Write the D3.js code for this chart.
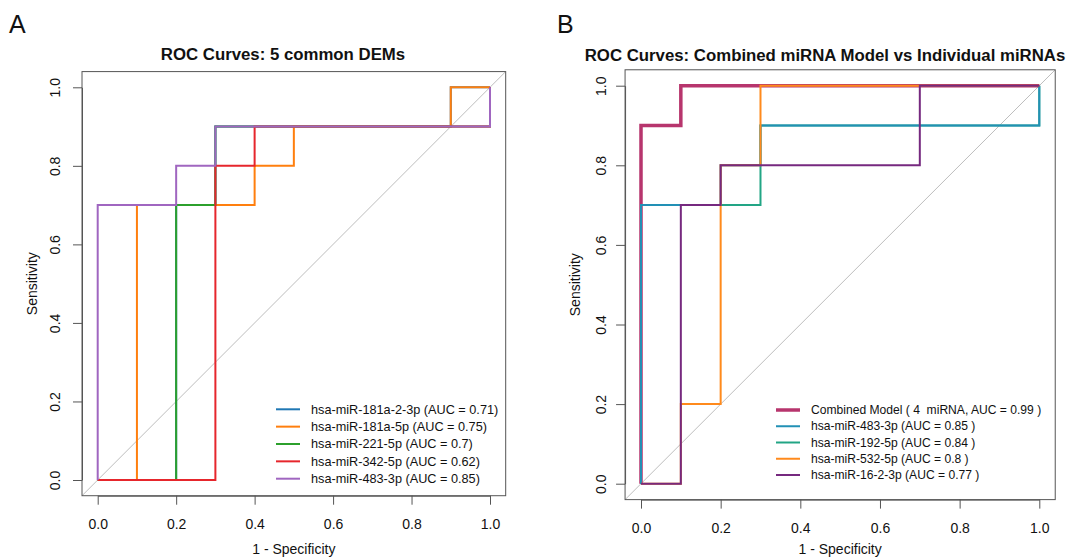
<!DOCTYPE html>
<html>
<head>
<meta charset="utf-8">
<script src="https://cdn.jsdelivr.net/npm/d3@7"></script>
<style>
  html, body { margin: 0; padding: 0; background: #fff; }
  svg { display: block; font-family: "Liberation Sans", Arial, sans-serif; }
  text { white-space: pre; }
</style>
</head>
<body>
<svg id="chart" width="1086" height="559"></svg>
<script>
// ---------------- DATA ----------------
const xTicks = [0, 0.2, 0.4, 0.6, 0.8, 1.0];
const yTicks = [0, 0.2, 0.4, 0.6, 0.8, 1.0];
const xAxisTitle = "1 - Specificity";
const yAxisTitle = "Sensitivity";

// Panel A
const titleA = "ROC Curves: 5 common DEMs";
const namesA = ["hsa-miR-181a-2-3p", "hsa-miR-181a-5p", "hsa-miR-221-5p", "hsa-miR-342-5p", "hsa-miR-483-3p"];
const aucA = ["0.71", "0.75", "0.7", "0.62", "0.85"];
const colorsA = ["#1f77b4", "#ff7f0e", "#2ca02c", "#e6262c", "#a066c0"];
const fprA_181a23p = [0, 0.2, 0.2, 0.3, 0.3, 0.9, 0.9, 1];
const tprA_181a23p = [0, 0, 0.7, 0.7, 0.9, 0.9, 1, 1];
const fprA_181a5p = [0, 0.1, 0.1, 0.4, 0.4, 0.5, 0.5, 0.9, 0.9, 1];
const tprA_181a5p = [0, 0, 0.7, 0.7, 0.8, 0.8, 0.9, 0.9, 1, 1];
const fprA_221 = [0, 0.2, 0.2, 0.3, 0.3, 1, 1];
const tprA_221 = [0, 0, 0.7, 0.7, 0.9, 0.9, 1];
const fprA_342 = [0, 0.3, 0.3, 0.4, 0.4, 1, 1];
const tprA_342 = [0, 0, 0.8, 0.8, 0.9, 0.9, 1];
const fprA_483 = [0, 0, 0.2, 0.2, 0.3, 0.3, 1, 1];
const tprA_483 = [0, 0.7, 0.7, 0.8, 0.8, 0.9, 0.9, 1];

// Panel B
const titleB = "ROC Curves: Combined miRNA Model vs Individual miRNAs";
const namesB = ["Combined Model ( 4  miRNA, AUC = 0.99 )", "hsa-miR-483-3p (AUC = 0.85 )", "hsa-miR-192-5p (AUC = 0.84 )", "hsa-miR-532-5p (AUC = 0.8 )", "hsa-miR-16-2-3p (AUC = 0.77 )"];
const colorsB = ["#b7356d", "#2290b5", "#22a585", "#ff8a1c", "#76297f"];
const fprB_combined = [0, 0, 0.1, 0.1, 1];
const tprB_combined = [0, 0.9, 0.9, 1, 1];
const fprB_483 = [0, 0, 0.2, 0.2, 0.3, 0.3, 1, 1];
const tprB_483 = [0, 0.7, 0.7, 0.8, 0.8, 0.9, 0.9, 1];
const fprB_192 = [0, 0, 0.3, 0.3, 1, 1];
const tprB_192 = [0, 0.7, 0.7, 0.9, 0.9, 1];
const fprB_532 = [0, 0.1, 0.1, 0.2, 0.2, 0.3, 0.3, 1];
const tprB_532 = [0, 0, 0.2, 0.2, 0.8, 0.8, 1, 1];
const fprB_16 = [0, 0.1, 0.1, 0.2, 0.2, 0.7, 0.7, 1];
const tprB_16 = [0, 0, 0.7, 0.7, 0.8, 0.8, 1, 1];

// ---------------- DRAW ----------------
const svg = d3.select("#chart");

function zip(f, t) { return f.map((v, i) => [v, t[i]]); }

function panel(cfg) {
  const x = d3.scaleLinear().domain([0, 1]).range([cfg.x0, cfg.x1]);
  const y = d3.scaleLinear().domain([0, 1]).range([cfg.y0, cfg.y1]);
  const bx0 = x(-0.04), bx1 = x(1.04), by0 = y(-0.04), by1 = y(1.04);
  const g = svg.append("g");

  const cid = "clip" + cfg.id;
  g.append("clipPath").attr("id", cid).append("rect")
    .attr("x", bx0).attr("y", by1).attr("width", bx1 - bx0).attr("height", by0 - by1);

  g.append("line").attr("clip-path", `url(#${cid})`)
    .attr("x1", x(-0.04)).attr("y1", y(-0.04)).attr("x2", x(1.04)).attr("y2", y(1.04))
    .attr("stroke", "#bdbdbd").attr("stroke-width", 1);

  const line = d3.line().x(d => x(d[0])).y(d => y(d[1]));
  cfg.order.forEach(i => {
    const c = cfg.curves[i];
    g.append("path").datum(zip(c[0], c[1]))
      .attr("d", line).attr("fill", "none")
      .attr("stroke", cfg.colors[i]).attr("stroke-width", cfg.widths[i])
      .attr("stroke-linejoin", "miter").attr("stroke-linecap", "butt");
  });

  g.append("rect").attr("x", bx0).attr("y", by1).attr("width", bx1 - bx0).attr("height", by0 - by1)
    .attr("fill", "none").attr("stroke", "#555").attr("stroke-width", 1);

  const xa = g.append("g").attr("transform", `translate(0,${by0})`)
    .call(d3.axisBottom(x).tickValues(xTicks).tickFormat(d3.format(".1f")).tickSize(9).tickSizeOuter(0));
  xa.select(".domain").attr("stroke", "#555");
  xa.selectAll(".tick line").attr("stroke", "#555");
  xa.selectAll(".tick text").attr("y", 33).attr("dy", 0).attr("font-size", 14).attr("fill", "#111")
    .attr("font-family", '"Liberation Sans", Arial, sans-serif');

  const ya = g.append("g").attr("transform", `translate(${bx0},0)`)
    .call(d3.axisLeft(y).tickValues(yTicks).tickFormat(d3.format(".1f")).tickSize(9).tickSizeOuter(0));
  ya.select(".domain").attr("stroke", "#555");
  ya.selectAll(".tick line").attr("stroke", "#555");
  ya.selectAll(".tick text").attr("x", 0).attr("dy", 0)
    .attr("transform", `translate(${-cfg.yLabOff},0) rotate(-90)`)
    .attr("text-anchor", "middle").attr("font-size", 14).attr("fill", "#111")
    .attr("font-family", '"Liberation Sans", Arial, sans-serif');

  g.append("text").attr("x", (bx0 + bx1) / 2).attr("y", 554).attr("text-anchor", "middle")
    .attr("font-size", 14).attr("fill", "#111").text(xAxisTitle);
  g.append("text").attr("transform", `translate(${bx0 - 45},${(by0 + by1) / 2}) rotate(-90)`)
    .attr("text-anchor", "middle").attr("font-size", 14).attr("fill", "#111").text(yAxisTitle);

  g.append("text").attr("x", cfg.titleX).attr("y", cfg.titleY).attr("text-anchor", "middle")
    .attr("font-size", 16.8).attr("font-weight", "bold").attr("fill", "#111").text(cfg.title);

  g.append("text").attr("x", cfg.letterX).attr("y", 33).attr("font-size", 25).attr("fill", "#111").text(cfg.letter);

  const lg = g.append("g");
  cfg.labels.forEach((lab, i) => {
    const yy = cfg.legY + i * cfg.legStep;
    lg.append("line").attr("x1", cfg.legX).attr("x2", cfg.legX + 24).attr("y1", yy).attr("y2", yy)
      .attr("stroke", cfg.colors[i]).attr("stroke-width", cfg.legW[i]);
    lg.append("text").attr("x", cfg.legX + 35).attr("y", yy).attr("dy", "0.35em")
      .attr("font-size", cfg.legFont).attr("fill", "#111").attr("xml:space", "preserve").text(lab);
  });
}

panel({
  id: "A", letter: "A", letterX: 9,
  x0: 97.7, x1: 490, y0: 480, y1: 87.3, yLabOff: 22,
  title: titleA, titleX: 283, titleY: 60,
  curves: [[fprA_181a23p, tprA_181a23p], [fprA_181a5p, tprA_181a5p], [fprA_221, tprA_221], [fprA_342, tprA_342], [fprA_483, tprA_483]],
  colors: colorsA, widths: [2, 2, 2, 2, 2], order: [0, 1, 2, 3, 4],
  labels: namesA.map((n, i) => `${n} (AUC = ${aucA[i]})`),
  legX: 276, legY: 409.3, legStep: 17.35, legFont: 12.7, legW: [2, 2, 2, 2, 2]
});

panel({
  id: "B", letter: "B", letterX: 557,
  x0: 641, x1: 1039.3, y0: 483.7, y1: 85.7, yLabOff: 19,
  title: titleB, titleX: 825, titleY: 61,
  curves: [[fprB_combined, tprB_combined], [fprB_483, tprB_483], [fprB_192, tprB_192], [fprB_532, tprB_532], [fprB_16, tprB_16]],
  colors: colorsB, widths: [3.5, 2, 2, 2, 2], order: [0, 2, 1, 3, 4],
  labels: namesB,
  legX: 776, legY: 410, legStep: 16.25, legFont: 12.1, legW: [3.5, 2, 2, 2, 2]
});
</script>
</body>
</html>
